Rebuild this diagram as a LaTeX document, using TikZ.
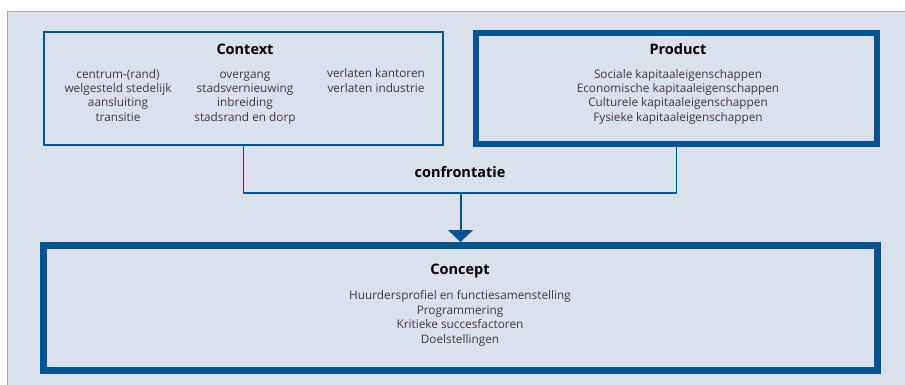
\documentclass[tikz,border=0pt]{standalone}
\usepackage{fontspec}
\setmainfont{Open Sans}
\usetikzlibrary{arrows.meta}
\definecolor{panelbg}{RGB}{218,224,238}
\definecolor{dblue}{RGB}{0,84,147}
\definecolor{txtgray}{RGB}{60,60,60}
\tikzset{
  thinbox/.style={draw=dblue,line width=2pt,minimum width=399pt,minimum height=113pt,inner sep=0pt,outer sep=0pt},
  thickbox/.style={draw=dblue,line width=6pt,inner sep=0pt,outer sep=0pt},
  ttl/.style={font=\fontsize{14.5}{17}\selectfont\bfseries,text=black,inner sep=0pt,anchor=base},
  body/.style={font=\fontsize{11.8}{14.5}\selectfont,text=txtgray,align=center,inner sep=0pt,anchor=base},
  conn/.style={draw=dblue,line width=1.6pt},
}
\begin{document}
\begin{tikzpicture}[x=1pt,y=-1pt]
\useasboundingbox (0,0) rectangle (905,385);
\fill[panelbg] (7,11) rectangle (906,386);
\draw[black!35,line width=0.8pt] (906,11) -- (7,11) -- (7,386);

\node[thinbox] (ctx) at (243.5,88.5) {};
\node[thickbox,minimum width=401pt,minimum height=111pt] (prod) at (676.5,88.5) {};
\node[thickbox,line width=7pt,minimum width=834pt,minimum height=125pt] (con) at (460.5,308) {};

% base anchor = baseline of the last line
\node[ttl] (ctxt) at (245,55) {Context};
\node[body] (c1) at (118,121.5) {centrum-(rand)\\welgesteld stedelijk\\aansluiting\\transitie};
\node[body] (c2) at (245,121.5) {overgang\\stadsvernieuwing\\inbreiding\\stadsrand en dorp};
\node[body] (c3) at (376,92.5) {verlaten kantoren\\verlaten industrie};

\node[ttl] (prodt) at (678,55) {Product};
\node[body] (p1) at (678,121.5) {Sociale kapitaaleigenschappen\\Economische kapitaaleigenschappen\\Culturele kapitaaleigenschappen\\Fysieke kapitaaleigenschappen};

\node[ttl] (cont) at (460,274) {Concept};
\node[body] (k1) at (460,343) {Huurdersprofiel en functiesamenstelling\\Programmering\\Kritieke succesfactoren\\Doelstellingen};

\coordinate (j) at (460.5,193);
\draw[conn] (ctx.south) |- (j) -| (prod.south);
\node[ttl] (conf) at (460,177) {confrontatie};
\draw[draw=dblue,line width=2pt,-{Triangle[width=25pt,length=12pt]},shorten >=3.5pt] (j) -- (con.north);
\end{tikzpicture}
\end{document}
